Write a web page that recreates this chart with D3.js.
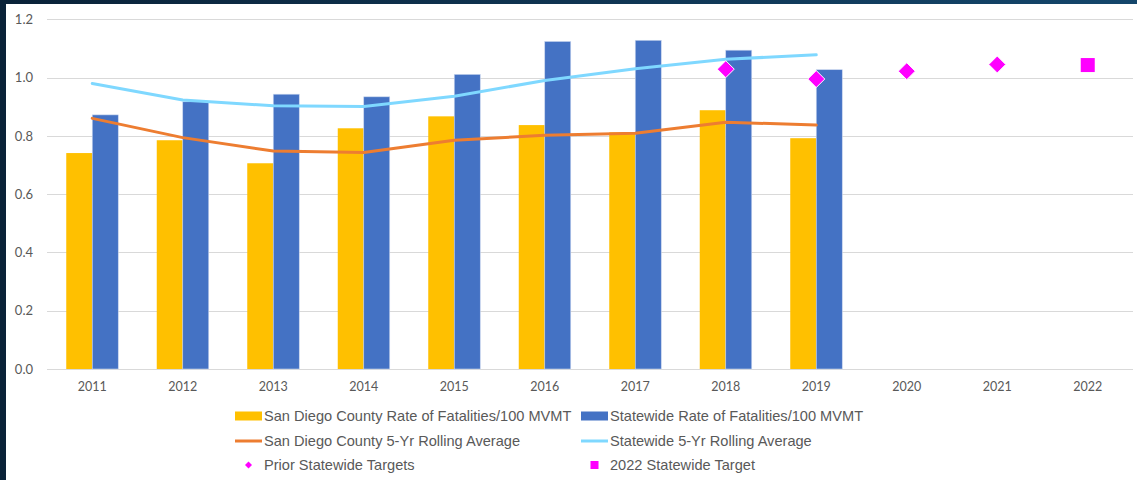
<!DOCTYPE html>
<html><head><meta charset="utf-8">
<script src="https://cdn.jsdelivr.net/npm/d3@7"></script>
<style>
html,body{margin:0;padding:0;background:#0c2740;}
svg{display:block;}
</style></head>
<body>
<script>
const years = ["2011","2012","2013","2014","2015","2016","2017","2018","2019","2020","2021","2022"];
const sdRate = [0.741,0.785,0.706,0.826,0.867,0.837,0.812,0.888,0.792];
const stRate = [0.872,0.917,0.943,0.934,1.011,1.124,1.128,1.094,1.027];
const sdAvg = [0.860,0.794,0.748,0.743,0.785,0.802,0.809,0.847,0.837];
const stAvg = [0.980,0.923,0.903,0.901,0.936,0.990,1.030,1.063,1.078];
const priorYears = ["2018","2019","2020","2021"];
const priorTargets = [1.029,0.995,1.022,1.045];
const target2022 = [{year:"2022", value:1.043}];
const yTicks = [0,0.2,0.4,0.6,0.8,1.0,1.2];

const W = 1137, H = 480;
const svg = d3.select("body").append("svg").attr("width",W).attr("height",H);
const defs = svg.append("defs");
const grad = defs.append("linearGradient").attr("id","bg").attr("x1","0").attr("y1","0").attr("x2","1").attr("y2","0");
grad.append("stop").attr("offset","0").attr("stop-color","#0a2238");
grad.append("stop").attr("offset","1").attr("stop-color","#14466b");
svg.append("rect").attr("width",W).attr("height",H).attr("fill","url(#bg)");
svg.append("rect").attr("x",6).attr("y",4).attr("width",W-6).attr("height",H-4).attr("fill","#fff");

const x = d3.scaleBand().domain(years).range([47,1133]);
const y = d3.scaleLinear().domain([0,1.2]).range([369,19.3]);
const barW = 26;

// grid
svg.append("g").selectAll("line").data(yTicks).join("line")
  .attr("x1",47).attr("x2",1133)
  .attr("y1",d=>Math.round(y(d))+0.5).attr("y2",d=>Math.round(y(d))+0.5)
  .attr("stroke","#d9d9d9").attr("stroke-width",1);

// y axis labels
const yAxis = d3.axisLeft(y).tickValues(yTicks).tickFormat(d3.format(".1f")).tickSize(0).tickPadding(0);
const ya = svg.append("g").attr("transform","translate(33,0)").call(yAxis);
ya.select(".domain").remove();
ya.selectAll("text").attr("fill","#595959").style("font-family","Lato, 'Open Sans', sans-serif").style("font-size","13px");

// x axis labels
const xAxis = d3.axisBottom(x).tickSize(0).tickPadding(0);
const xa = svg.append("g").attr("transform","translate(0,382)").call(xAxis);
xa.select(".domain").remove();
xa.selectAll("text").attr("fill","#595959").style("font-family","Lato, 'Open Sans', sans-serif").style("font-size","12.5px");

const cx = d => x(d) + x.bandwidth()/2;

// bars
svg.append("g").selectAll("rect").data(sdRate).join("rect")
  .attr("x",(d,i)=>cx(years[i])-barW).attr("width",barW)
  .attr("y",d=>y(d)).attr("height",d=>y(0)-y(d))
  .attr("fill","#FFC000");
svg.append("g").selectAll("rect").data(stRate).join("rect")
  .attr("x",(d,i)=>cx(years[i])).attr("width",barW)
  .attr("y",d=>y(d)).attr("height",d=>y(0)-y(d))
  .attr("fill","#4472C4").attr("stroke","#c9d6ee").attr("stroke-width",0.6);

// lines
const line = d3.line().x((d,i)=>cx(years[i])).y(d=>y(d));
svg.append("path").datum(sdAvg).attr("d",line).attr("fill","none")
  .attr("stroke","#ED7D31").attr("stroke-width",3).attr("stroke-linejoin","round").attr("stroke-linecap","round");
svg.append("path").datum(stAvg).attr("d",line).attr("fill","none")
  .attr("stroke","#7FD8FF").attr("stroke-width",3).attr("stroke-linejoin","round").attr("stroke-linecap","round");

// prior targets diamonds
const dsz = 8.5;
svg.append("g").selectAll("path").data(priorTargets).join("path")
  .attr("d",(d,i)=>{const px=cx(priorYears[i]), py=y(d); return `M${px},${py-dsz}L${px+dsz},${py}L${px},${py+dsz}L${px-dsz},${py}Z`;})
  .attr("fill","#FF00FF").attr("stroke","#fff").attr("stroke-width",1);

// 2022 target square
svg.append("g").selectAll("rect").data(target2022).join("rect")
  .attr("x",d=>cx(d.year)-7).attr("y",d=>y(d.value)-7).attr("width",14).attr("height",14)
  .attr("fill","#FF00FF");

// legend
const lg = svg.append("g").style("font-family","'Liberation Sans', Arial, sans-serif").style("font-size","14.6px").attr("fill","#595959");
const items = [
  {t:"San Diego County Rate of Fatalities/100 MVMT", type:"bar", c:"#FFC000", x:235, y:416},
  {t:"Statewide Rate of Fatalities/100 MVMT", type:"bar", c:"#4472C4", x:581, y:416},
  {t:"San Diego County 5-Yr Rolling Average", type:"line", c:"#ED7D31", x:235, y:441},
  {t:"Statewide 5-Yr Rolling Average", type:"line", c:"#7FD8FF", x:581, y:441},
  {t:"Prior Statewide Targets", type:"diamond", c:"#FF00FF", x:235, y:465},
  {t:"2022 Statewide Target", type:"square", c:"#FF00FF", x:581, y:465}
];
items.forEach(it=>{
  if(it.type==="bar") lg.append("rect").attr("x",it.x).attr("y",it.y-4.5).attr("width",27).attr("height",9).attr("fill",it.c);
  else if(it.type==="line") lg.append("line").attr("x1",it.x).attr("x2",it.x+27).attr("y1",it.y).attr("y2",it.y).attr("stroke",it.c).attr("stroke-width",3);
  else if(it.type==="diamond"){const px=it.x+13.5,py=it.y,s=3.5; lg.append("path").attr("d",`M${px},${py-s}L${px+s},${py}L${px},${py+s}L${px-s},${py}Z`).attr("fill",it.c);}
  else lg.append("rect").attr("x",it.x+9.5).attr("y",it.y-4).attr("width",8).attr("height",8).attr("fill",it.c);
  lg.append("text").attr("x",it.x+29).attr("y",it.y).attr("dy","0.35em").text(it.t);
});
</script>
</body></html>
